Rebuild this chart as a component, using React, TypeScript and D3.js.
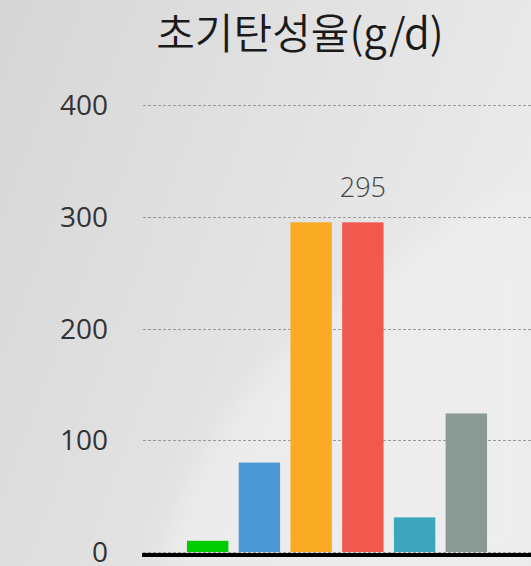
import React, { useEffect, useRef } from 'react';
import * as d3 from 'd3';

// data
const categories = ['A', 'B', 'C', 'D', 'E', 'F'];
const values = [10, 80, 295, 295, 31, 124];
const colors = ['#00cc00', '#4a98d6', '#f9ab23', '#f1584e', '#3ea6bc', '#8b9995'];
const yTicks = [0, 100, 200, 300, 400];
const labelled = ['D'];

const W = 531, H = 566;

const drawChart = (node: SVGSVGElement) => {
    const svg = d3.select(node);
    svg.selectAll('*').remove();

    // background
    const defs = svg.append('defs');
    const grad = defs.append('linearGradient').attr('id', 'bg').attr('x1', 0).attr('y1', 0).attr('x2', 1).attr('y2', 0.4);
    grad.append('stop').attr('offset', '0%').attr('stop-color', '#d6d6d6');
    grad.append('stop').attr('offset', '45%').attr('stop-color', '#e0e0e0');
    grad.append('stop').attr('offset', '100%').attr('stop-color', '#ebebeb');
    const blur = defs.append('filter').attr('id', 'soft');
    blur.append('feGaussianBlur').attr('stdDeviation', 12);
    svg.append('rect').attr('width', W).attr('height', H).attr('fill', 'url(#bg)');
    svg.append('path')
        .attr('d', 'M160,566 C200,420 300,300 531,180 L531,566 Z')
        .attr('fill', '#efefef').attr('opacity', 0.7).attr('filter', 'url(#soft)');

    const x = d3.scaleBand().domain(categories).range([143, 531]).paddingInner(0.2).paddingOuter(0.85);
    const y = d3.scaleLinear().domain([0, 400]).range([552, 105]);

    // grid
    svg.append('g').selectAll('line').data(yTicks).enter().append('line')
        .attr('x1', 143).attr('x2', W)
        .attr('y1', d => Math.round(y(d)) + 0.5).attr('y2', d => Math.round(y(d)) + 0.5)
        .attr('stroke', '#9a9a9a').attr('stroke-width', 1).attr('stroke-dasharray', '3,2');

    // tick labels
    svg.append('g').selectAll('text').data(yTicks).enter().append('text')
        .attr('x', 108).attr('y', d => y(d) + 10)
        .attr('text-anchor', 'end')
        .attr('font-family', '"Open Sans", "Noto Sans", sans-serif').attr('font-size', 28).attr('font-weight', 400)
        .attr('fill', '#333').text(d => d);

    // bars
    svg.append('g').selectAll('rect').data(categories).enter().append('rect')
        .attr('x', d => x(d)!)
        .attr('width', x.bandwidth())
        .attr('y', (d, i) => y(values[i]))
        .attr('height', (d, i) => y(0) - y(values[i]))
        .attr('fill', (d, i) => colors[i]);

    // baseline
    svg.append('line').attr('x1', 142).attr('x2', W).attr('y1', 555).attr('y2', 555)
        .attr('stroke', '#000').attr('stroke-width', 4);

    // value labels
    svg.append('g').selectAll('text').data(categories.filter(c => labelled.includes(c))).enter().append('text')
        .attr('x', d => x(d)! + x.bandwidth() / 2)
        .attr('y', d => y(values[categories.indexOf(d)]) - 25)
        .attr('text-anchor', 'middle')
        .attr('font-family', '"Open Sans", "Noto Sans", sans-serif').attr('font-size', 27).attr('font-weight', 300)
        .attr('fill', '#444').text(d => values[categories.indexOf(d)]);

    // title
    svg.append('text').attr('x', 300).attr('y', 49).attr('text-anchor', 'middle')
        .attr('font-family', '"Noto Sans CJK KR", "Noto Sans", sans-serif').attr('font-size', 42).attr('font-weight', 350)
        .attr('fill', '#1a1a1a').text('초기탄성율(g/d)');
};

const App = () => {
    const ref = useRef<SVGSVGElement>(null);
    useEffect(() => {
        if (ref.current) drawChart(ref.current);
    }, []);
    return (
        <svg ref={ref} width={W} height={H} style={{ position: 'absolute', left: 0, top: 0, display: 'block' }}></svg>
    );
};

export default App;
